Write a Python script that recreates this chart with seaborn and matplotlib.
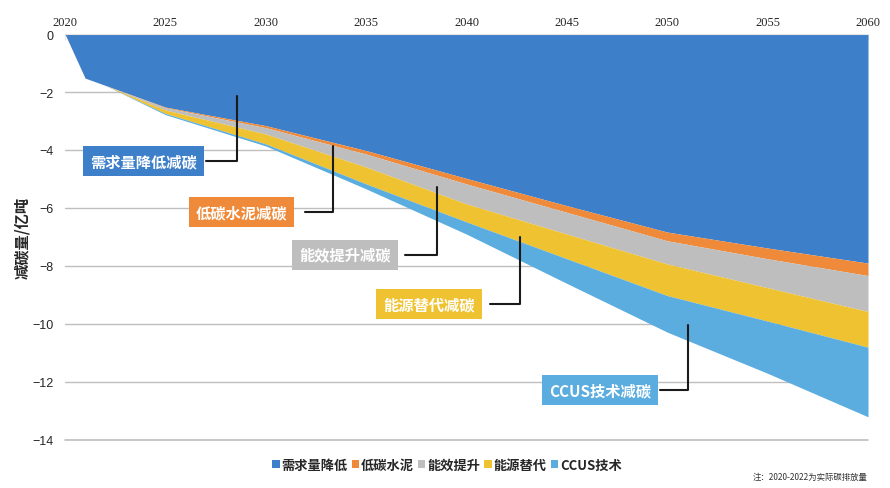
import numpy as np
import pandas as pd
import matplotlib
matplotlib.use("Agg")
import matplotlib.pyplot as plt
import seaborn as sns
from matplotlib.patches import Patch

# -----------------------------
# Data (亿吨, negative = reduction)
years = [2020, 2021, 2022, 2025, 2030, 2035, 2040, 2045, 2050, 2055, 2060]
demand = [0, -1.52, -1.77, -2.52, -3.16, -4.02, -4.98, -5.92, -6.83, -7.38, -7.90]
cement = [0, 0, 0, -0.02, -0.07, -0.12, -0.19, -0.23, -0.30, -0.37, -0.43]
efficiency = [0, 0, 0, -0.08, -0.22, -0.45, -0.69, -0.75, -0.80, -1.00, -1.24]
energy = [0, 0, 0, -0.12, -0.34, -0.58, -0.62, -0.85, -1.09, -1.15, -1.23]
ccus = [0, 0, 0, -0.04, -0.07, -0.17, -0.42, -0.85, -1.26, -1.80, -2.40]

series_names = ["需求量降低", "低碳水泥", "能效提升", "能源替代", "CCUS技术"]
box_labels = ["需求量降低减碳", "低碳水泥减碳", "能效提升减碳", "能源替代减碳", "CCUS技术减碳"]
colors = ["#3D7FC9", "#EE8A3A", "#BEBEBE", "#EFC231", "#5BADDF"]
x_ticks = [2020, 2025, 2030, 2035, 2040, 2045, 2050, 2055, 2060]
y_ticks = [0, -2, -4, -6, -8, -10, -12, -14]

df = pd.DataFrame({"year": years, series_names[0]: demand, series_names[1]: cement,
                   series_names[2]: efficiency, series_names[3]: energy,
                   series_names[4]: ccus})

# -----------------------------
# Style
sns.set_style("white")
plt.rcParams["font.family"] = ["Noto Sans CJK SC", "DejaVu Sans"]

fig = plt.figure(figsize=(8.9, 4.89), dpi=100)
ax = fig.add_axes([65 / 890, 1 - 441 / 489, (868 - 65) / 890, (441 - 35) / 489])

ax.stackplot(df["year"], [df[c] for c in series_names], colors=colors,
             linewidth=0, zorder=2)

ax.set_xlim(2020, 2060)
ax.set_ylim(-14, 0)
ax.set_xticks(x_ticks)
ax.set_yticks(y_ticks)
ax.xaxis.tick_top()
ax.tick_params(axis="x", direction="in", length=4, color="#E6E6E6", pad=4,
               labelsize=9)
ax.tick_params(axis="y", length=0, pad=8, labelsize=9)
for lab in ax.get_xticklabels():
    lab.set_family("Liberation Serif")
for lab in ax.get_yticklabels():
    lab.set_family("Liberation Sans")
ax.grid(axis="y", color="#BFBFBF", linewidth=1, zorder=0)
ax.axhline(-14, color="#BFBFBF", linewidth=1.2, clip_on=False, zorder=0)
ax.set_axisbelow(True)
for side in ["left", "right", "bottom"]:
    ax.spines[side].set_visible(False)
ax.spines["top"].set_color("#E6E6E6")

ax.set_ylabel("减碳量/亿吨", fontsize=11, fontweight="bold", labelpad=2)

# -----------------------------
# Callout boxes with leader lines
box_x = [2023.9, 2028.8, 2033.95, 2038.13, 2046.65]
box_y = [-4.38, -6.14, -7.62, -9.31, -12.28]
line_from = [2027.0, 2031.95, 2036.94, 2041.17, 2049.64]
line_turn = [2028.57, 2033.35, 2038.53, 2042.67, 2051.03]
line_top = [-2.14, -3.86, -5.28, -7.0, -10.03]

for i in range(5):
    ax.plot([line_from[i], line_turn[i], line_turn[i]],
            [box_y[i], box_y[i], line_top[i]],
            color="#1A1A1A", linewidth=1.5, zorder=3)
    ax.text(box_x[i], box_y[i], box_labels[i], color="white", fontsize=11,
            fontweight="bold", ha="center", va="center", zorder=4,
            bbox=dict(boxstyle="square,pad=0.45", fc=colors[i], ec="none"))

# -----------------------------
# Legend
handles = [Patch(facecolor=c, edgecolor="none") for c in colors]
fig.legend(handles, series_names, loc="center", bbox_to_anchor=(447 / 890, 1 - 466 / 489),
           ncol=5, frameon=False, prop={"size": 9.5, "weight": "bold"},
           handlelength=0.55, handleheight=0.55,
           handletextpad=0.15, columnspacing=0.3)

fig.text(868 / 890, 1 - 477 / 489, "注：2020-2022为实际碳排放量", fontsize=6,
         ha="right", va="center", color="#333333")

fig.savefig("out.png", dpi=100)
